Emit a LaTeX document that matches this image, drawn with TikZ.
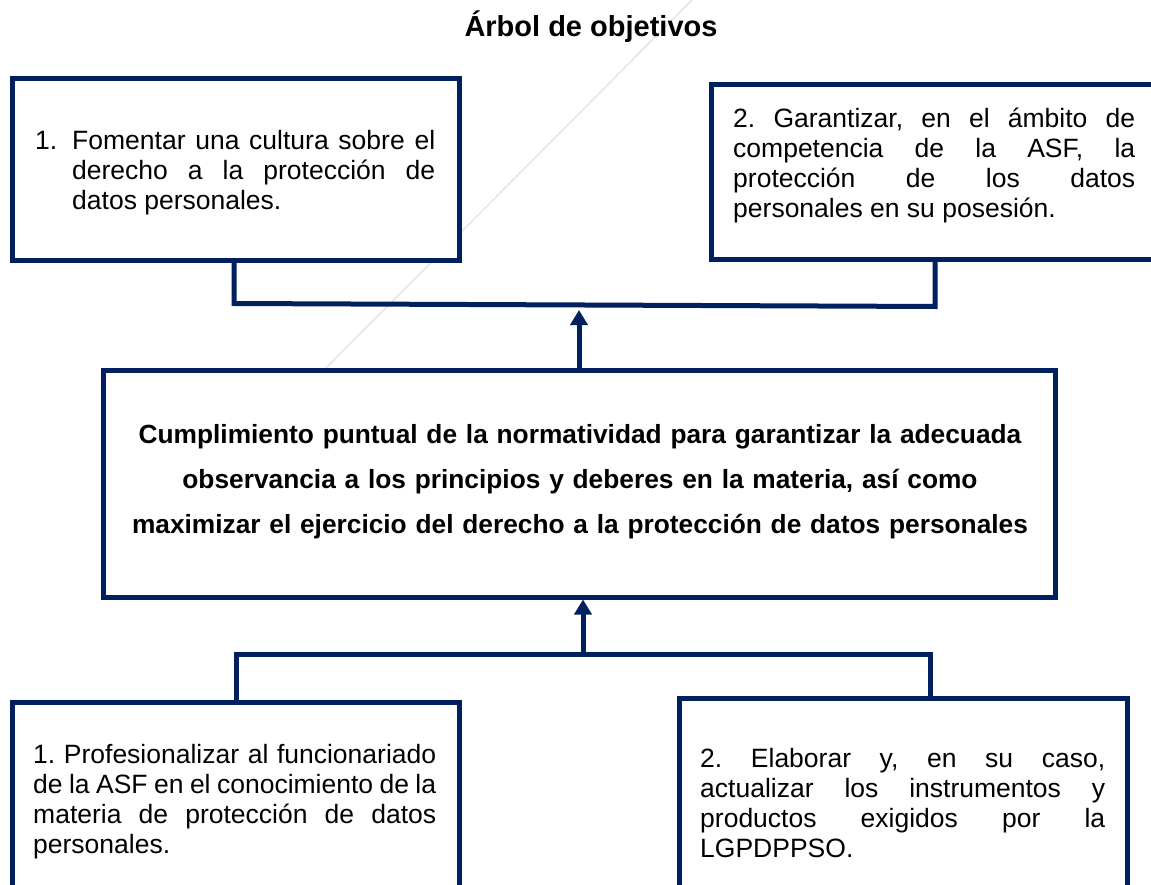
\documentclass[tikz,border=0pt]{standalone}
\usepackage{fontspec}
\setmainfont{Liberation Sans}
\usetikzlibrary{arrows.meta}
\definecolor{navy}{RGB}{0,32,96}
\frenchspacing
\begin{document}
\begin{tikzpicture}[x=1pt,y=-1pt,
  box/.style={draw=navy, line width=5pt, fill=white, outer sep=0pt, inner sep=0pt, anchor=north west, line join=miter},
  conn/.style={draw=navy, line width=5pt},
  uparrow/.style={draw=navy, line width=5pt, -{Triangle[length=15pt,width=17pt]}},
  btext/.style={anchor=base west, inner sep=0pt, align=justify, font=\fontsize{26.5}{30}\selectfont\frenchspacing},
  faint/.style={draw=black!10, line width=1.5pt}
]
\useasboundingbox (0,0) rectangle (1151,885);
\clip (0,0) rectangle (1151,885);

% faint diagonal stroke in the background
\draw[faint] (692,0) -- (322,372);

% boxes
\node[box, minimum width=447pt, minimum height=182pt] (b1) at (12,79) {};
\node[box, minimum width=460pt, minimum height=175pt] (b2) at (711,85) {};
\node[box, minimum width=952pt, minimum height=227pt] (c) at (103,370) {};
\node[box, minimum width=447pt, minimum height=250pt] (b3) at (12,702) {};
\node[box, minimum width=448pt, minimum height=250pt] (b4) at (679,698) {};

% junction coordinates
\coordinate (tj1) at (234,303.5);
\coordinate (tj2) at (935,306.5);
\coordinate (ta) at (579,310);
\coordinate (bj1) at (236,654);
\coordinate (bj2) at (930,654);
\coordinate (ba) at (583,654);

% connectors
\draw[conn] (b1.south -| tj1) -- (tj1) -- (tj2) -- (b2.south -| tj2);
\draw[uparrow] (c.north -| ta) -- (ta);
\draw[conn] (b3.north -| bj1) -- (bj1) -- (bj2) -- (b4.north -| bj2);
\draw[uparrow, shorten >=2.5pt] (ba) -- (c.south -| ba);

% texts
\node[anchor=base, inner sep=0pt, font=\bfseries\fontsize{29}{34}\selectfont] (title) at (591,37) {Árbol de objetivos};

\node[btext] (t1n) at (35,150) {1.};
\node[btext, text width=363pt] (t1) at (72,150) {Fomentar una cultura sobre el\linebreak derecho a la protección de\linebreak datos personales.};

\node[btext, text width=402pt] (t2) at (733,128) {2. Garantizar, en el ámbito de\linebreak competencia de la ASF, la\linebreak protección de los datos\linebreak personales en su posesión.};

\node[anchor=base, inner sep=0pt, align=center, text width=1000pt, font=\bfseries\fontsize{26.3}{45}\selectfont] (tc) at (580,443) {Cumplimiento puntual de la normatividad para garantizar la adecuada\\ observancia a los principios y deberes en la materia, así como\\ maximizar el ejercicio del derecho a la protección de datos personales};

\node[btext, text width=403pt] (t3) at (33,763) {1. Profesionalizar al funcionariado\linebreak de la ASF en el conocimiento de la\linebreak materia de protección de datos\linebreak personales.};

\node[btext, text width=405pt] (t4) at (700,767) {2. Elaborar y, en su caso,\linebreak actualizar los instrumentos y\linebreak productos exigidos por la\linebreak LGPDPPSO.};
\end{tikzpicture}
\end{document}
